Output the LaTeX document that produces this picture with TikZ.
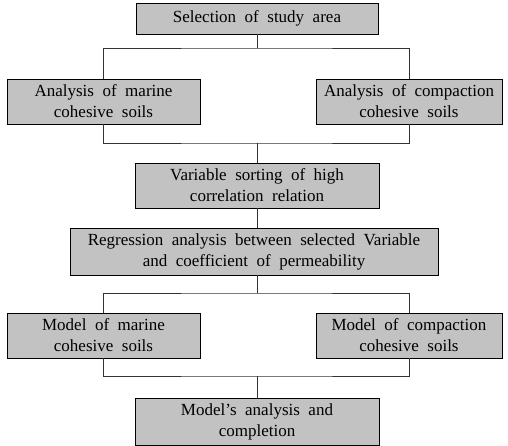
\documentclass[tikz,border=0pt]{standalone}
\usepackage{fontspec}
\setmainfont{Liberation Serif}
\usetikzlibrary{positioning}

\newcommand\boxfont{\fontsize{17}{21}\selectfont\spaceskip=0.5em plus 0.1em\relax}

\tikzset{
  stepbox/.style={draw=black,line width=.9pt,fill=black!24,align=center,inner sep=0pt,
    font=\boxfont},
  link/.style={black!80,line width=.7pt}
}

\begin{document}
\begin{tikzpicture}[x=1pt,y=-1pt]
\path[use as bounding box] (0,0) rectangle (508,446);
\node[stepbox,minimum width=242pt,minimum height=31pt] (area) at (257,18.5) {Selection of study area};
\node[stepbox,minimum width=193pt,minimum height=45pt] (amar) at (103.5,101.5) {Analysis of marine\\cohesive soils};
\node[stepbox,minimum width=186pt,minimum height=45pt] (acom) at (409,101.5) {Analysis of compaction\\cohesive soils};
\node[stepbox,minimum width=244pt,minimum height=45pt] (sort) at (257,185.5) {Variable sorting of high\\correlation relation};
\node[stepbox,minimum width=368pt,minimum height=47pt] (regr) at (254,251.5) {Regression analysis between selected Variable\\and coefficient of permeability};
\node[stepbox,minimum width=193pt,minimum height=45pt] (mmar) at (103.5,335.5) {Model of marine\\cohesive soils};
\node[stepbox,minimum width=186pt,minimum height=45pt] (mcom) at (409,335.5) {Model of compaction\\cohesive soils};
\node[stepbox,minimum width=244pt,minimum height=47pt] (done) at (257,422) {Model's analysis and\\completion};

% junctions of the branch lines
\coordinate (j1) at (257,48);
\coordinate (j2) at (257,143);
\coordinate (j3) at (257,293);
\coordinate (j4) at (257,376);

\draw[link] (area) -- (j1);
\draw[link] (amar.north) |- (j1) -| (acom.north);
\draw[link] (amar.south) |- (j2) -| (acom.south);
\draw[link] (j2) -- (sort);
\draw[link] (sort.south) -- (sort.south |- regr.north);
\draw[link] (j3 |- regr.south) -- (j3);
\draw[link] (mmar.north) |- (j3) -| (mcom.north);
\draw[link] (mmar.south) |- (j4) -| (mcom.south);
\draw[link] (j4) -- (done);
\end{tikzpicture}
\end{document}
